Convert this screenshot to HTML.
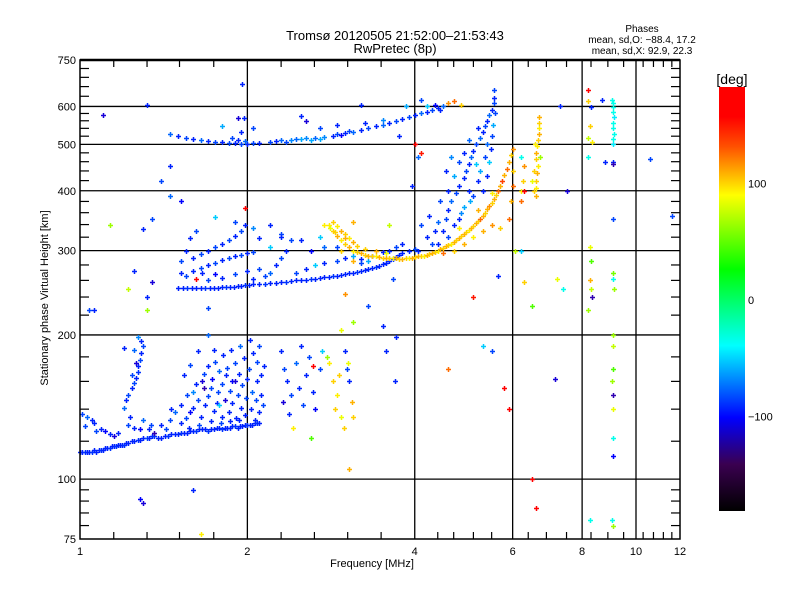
<!DOCTYPE html>
<html><head><meta charset="utf-8"><style>
body{margin:0;background:#fff;}
svg{display:block;font-family:"Liberation Sans",sans-serif;}
</style></head><body>
<svg id="chart" width="800" height="600" viewBox="0 0 800 600" xmlns="http://www.w3.org/2000/svg">
<defs>
<linearGradient id="cb" x1="0" y1="1" x2="0" y2="0">
<stop offset="0" stop-color="#000000"/>
<stop offset="0.11" stop-color="#3a0050"/>
<stop offset="0.22" stop-color="#0000ff"/>
<stop offset="0.39" stop-color="#00ffff"/>
<stop offset="0.57" stop-color="#00ff00"/>
<stop offset="0.745" stop-color="#ffff00"/>
<stop offset="0.86" stop-color="#ff5000"/>
<stop offset="0.93" stop-color="#ff0000"/>
<stop offset="1" stop-color="#ff0000"/>
</linearGradient>
</defs>
<rect width="800" height="600" fill="#fff"/>
<text x="395" y="40" font-size="13" text-anchor="middle">Tromsø 20120505 21:52:00–21:53:43</text>
<text x="395" y="53" font-size="13" text-anchor="middle">RwPretec (8p)</text>
<text x="642" y="32" font-size="10" text-anchor="middle">Phases</text>
<text x="642" y="43" font-size="10" text-anchor="middle">mean, sd,O: −88.4, 17.2</text>
<text x="642" y="54" font-size="10" text-anchor="middle">mean, sd,X:  92.9, 22.3</text>
<g id="grid"></g>
<g id="marks"></g>
<g id="axes"></g>
<text x="372" y="567" font-size="11" text-anchor="middle">Frequency [MHz]</text>
<text x="0" y="0" font-size="11" text-anchor="middle" transform="translate(48,298) rotate(-90)">Stationary phase Virtual Height [km]</text>
<rect x="719" y="87" width="26" height="424" fill="url(#cb)"/>
<text x="732" y="84" font-size="14" text-anchor="middle">[deg]</text>
<g id="cbticks"></g>
</svg>
<script>
const xTicks=[1,2,4,6,8,10,12];
const xMinor=[1.15,1.32,1.51,1.74,2.3,2.64,3.03,3.48,4.4,4.7,5.1,5.5,6.4,6.9,7.5,8.3,8.9,9.5,10.3,10.75,11.2,11.6];
const yTicks=[75,100,200,300,400,500,600,750];
const yGrid=[100,200,300,400,500,600];
const xGrid=[2,4,6,8,10];
const cbLabels=[100,0,-100];
// [freq MHz, height km, phase deg]
const eTrace=[[1,114,-110],[1.01,114,-110],[1.02,114,-105],[1.03,114,-110],[1.04,114,-110],[1.05,114,-105],[1.06,115,-110],[1.07,114,-110],[1.08,115,-110],[1.09,115,-105],[1.1,115,-110],[1.11,116,-110],[1.12,116,-110],[1.13,116,-105],[1.14,117,-110],[1.15,117,-110],[1.16,117,-105],[1.17,118,-110],[1.18,118,-110],[1.19,118,-110],[1.2,118,-105],[1.21,119,-110],[1.22,119,-110],[1.24,120,-110],[1.25,120,-110],[1.27,121,-105],[1.28,121,-110],[1.3,122,-110],[1.32,122,-100],[1.33,122,-110],[1.35,123,-110],[1.36,123,-105],[1.38,122,-110],[1.4,122,-110],[1.42,123,-110],[1.44,123,-105],[1.46,124,-110],[1.48,124,-110],[1.5,124,-110],[1.52,125,-105],[1.54,125,-110],[1.56,125,-110],[1.58,126,-110],[1.6,126,-110],[1.62,126,-105],[1.64,127,-110],[1.66,127,-110],[1.68,127,-110],[1.7,126,-105],[1.72,127,-110],[1.74,127,-110],[1.76,128,-110],[1.78,128,-110],[1.8,127,-105],[1.82,128,-110],[1.84,128,-110],[1.86,128,-110],[1.88,129,-110],[1.9,129,-105],[1.92,128,-110],[1.94,129,-110],[1.96,129,-110],[1.98,130,-110],[2,130,-105],[2.02,130,-110],[2.04,130,-110],[2.06,131,-110],[2.08,131,-105],[2.1,131,-110]];
const eSpread=[[1.01,137,-100],[1.03,135,-90],[1.05,133,-110],[1.02,129,-100],[1.06,131,-110],[1.07,126,-100],[1.09,127,-110],[1.11,126,-120],[1.13,124,-110],[1.15,123,-130],[1.17,125,-110],[1.2,141,-90],[1.21,146,-110],[1.22,150,-100],[1.24,155,-110],[1.25,159,-100],[1.26,163,-110],[1.27,167,-105],[1.27,172,-110],[1.28,177,-100],[1.29,183,-110],[1.3,190,-100],[1.29,194,-110],[1.27,198,-80],[1.25,186,-90],[1.26,175,-130],[1.24,165,-100],[1.22,130,-100],[1.25,128,-110],[1.28,127,-120],[1.23,135,-110],[1.3,133,-90],[1.34,130,-100],[1.33,127,-110],[1.36,125,-140],[1.4,130,-110],[1.43,127,-100],[1.48,138,-90],[1.46,140,-110],[1.45,133,-100],[1.52,131,-110],[1.55,134,-100],[1.52,143,-110],[1.56,150,-100],[1.58,138,-120],[1.6,141,-110],[1.6,152,-80],[1.62,158,-110],[1.63,146,-100],[1.65,135,-110],[1.66,160,-130],[1.67,166,-100],[1.68,143,-110],[1.7,149,-100],[1.7,172,-110],[1.72,155,-100],[1.73,162,-120],[1.74,139,-110],[1.75,176,-100],[1.76,144,-110],[1.77,152,-100],[1.78,168,-90],[1.8,135,-110],[1.8,158,-100],[1.81,182,-110],[1.82,146,-130],[1.83,165,-110],[1.84,171,-100],[1.85,138,-110],[1.86,153,-100],[1.87,186,-110],[1.88,160,-120],[1.88,144,-110],[1.9,175,-100],[1.91,134,-110],[1.92,150,-100],[1.93,166,-110],[1.94,190,-90],[1.95,141,-110],[1.96,157,-100],[1.97,179,-110],[1.98,136,-110],[1.99,148,-100],[2,162,-110],[2.01,170,-100],[2.02,195,-110],[2.03,140,-110],[2.04,152,-90],[2.05,183,-110],[2.06,133,-110],[2.07,146,-100],[2.08,160,-110],[2.08,176,-100],[2.1,138,-110],[2.1,190,-100],[2.12,150,-110],[2.12,165,-110],[2.13,143,-100],[2.14,172,-110],[1.72,132,-110],[1.64,130,-100],[1.57,128,-110],[1.79,131,-100],[1.86,132,-110],[1.93,133,-110],[1.74,186,-110],[1.7,200,-90],[1.63,185,-110],[1.58,173,-100],[1.54,165,-110],[1.78,143,-60],[1.67,155,-140],[1.9,160,-130]];
const midCloud=[[2.3,185,-110],[2.33,170,-100],[2.36,160,-110],[2.4,150,-100],[2.32,145,-130],[2.38,137,-110],[2.45,175,-90],[2.48,155,-110],[2.52,143,-100],[2.55,165,-110],[2.58,180,-100],[2.62,152,-110],[2.65,140,-120],[2.5,190,-110],[2.7,170,-100],[2.72,185,-60],[2.8,175,90],[2.85,160,100],[2.9,150,90],[2.88,140,100],[2.95,135,80],[2.78,180,60],[2.92,165,100],[3,185,-110],[3.02,170,-100],[3.05,160,-110],[3.08,145,110],[3.1,135,100],[2.98,128,100],[3.04,175,80],[2.42,128,90],[2.6,122,40],[3.05,105,110]];
const fLow=[[1.5,251,-110],[1.53,251,-110],[1.56,251,-105],[1.59,251,-110],[1.62,251,-110],[1.65,251,-110],[1.68,251,-105],[1.71,251,-110],[1.74,251,-110],[1.77,251,-110],[1.8,252,-110],[1.83,252,-105],[1.86,252,-110],[1.89,252,-110],[1.92,253,-110],[1.95,253,-110],[1.98,254,-105],[2.01,254,-110],[2.05,255,-110],[2.1,256,-110],[2.15,256,-105],[2.2,257,-110],[2.25,257,-110],[2.3,258,-110],[2.35,258,-105],[2.4,259,-110],[2.45,260,-110],[2.5,260,-110],[2.55,261,-110],[2.6,262,-105],[2.65,262,-110],[2.7,263,-110],[2.75,264,-110],[2.8,264,-110],[2.85,265,-105],[2.9,266,-110],[2.95,267,-110],[3,268,-110],[3.05,269,-110],[3.1,270,-110],[3.15,271,-105],[3.2,272,-110],[3.25,273,-110],[3.3,275,-110],[3.35,276,-110],[3.4,277,-105],[3.45,279,-110],[3.5,281,-110],[3.55,283,-110],[3.6,285,-110],[3.65,288,-105],[3.7,291,-110],[3.75,294,-110],[3.8,297,-110],
[1.55,265,-100],[1.6,272,-110],[1.65,276,-100],[1.7,280,-110],[1.75,283,-100],[1.8,287,-110],[1.85,290,-100],[1.9,292,-110],[1.95,294,-100],[2,296,-110],[2.05,298,-100],[1.6,290,-110],[1.65,295,-100],[1.7,300,-110],[1.75,305,-100],[1.8,310,-110],[1.85,315,-100],[1.9,322,-110],[1.95,330,-100],[1.55,300,-110],[1.52,285,-100],[1.58,318,-110],[1.62,330,-100],[1.52,270,-110],[1.7,260,-100],[1.8,263,-110],[1.9,268,-100],[2,272,-110],[2.1,275,-100],[1.75,268,-120],[2.05,262,-110],[2.15,265,-100],[2.2,270,-90],[2.25,280,-110],[2.3,290,-100],[2.35,300,-110],[2.4,315,-100],[2.1,318,-110],[2.05,335,-80],[1.98,340,-110],[1.9,345,-100],[2.2,305,-60],[2.45,270,-100],[2.55,275,-110],[2.65,280,-60],[2.75,283,-110],[2.9,285,-100],[3,290,-110],[3.1,293,-70],[3.2,288,-110],[3.35,292,-100],[3.5,298,-110],[2.6,300,-120],[2.75,305,-90],[2.5,315,-110],[2.9,305,-100],[2.3,325,-100],[2.2,340,-110],[2.7,320,-60],[3.6,300,-110],[3.7,305,-100],[3.8,310,-110],[3.9,300,-110],[4,303,-100],[4.05,300,-110],[3.2,283,-100],[3.3,285,-70]];
const fX=[[2.8,340,90],[2.85,330,100],[2.9,322,110],[2.95,315,90],[3,310,100],[3.05,305,110],[3.1,300,90],[3.15,298,100],[3.2,296,110],[2.85,345,100],[2.9,338,90],[2.95,330,110],[3,325,100],[3.05,318,90],[3.1,312,110],[3.15,306,100],[2.82,335,80],[2.88,328,100],[3,318,110],[3.25,294,100],[3.3,293,110],[3.35,292,100],[3.4,292,90],[3.45,291,110],[3.5,290,100],[3.55,290,110],[3.6,290,100],[3.65,289,90],[3.7,289,110],[3.75,288,100],[3.8,288,110],[3.85,289,100],[3.9,290,90],[3.95,290,110],[4,291,100],[4.05,292,110],[4.1,292,100],[4.15,293,90],[4.2,294,110],[4.25,295,100],[4.3,297,110],[4.35,298,100],[4.4,300,90],[4.45,302,110],[4.5,304,100],[4.55,306,110],[4.6,308,100],[4.65,310,90],[4.7,313,110],[4.75,316,100],[4.8,319,110],[4.85,322,100],[4.9,325,110],[4.95,328,100],[5,331,90],[5.05,335,110],[5.1,338,100],[5.15,342,110],[5.2,346,100],[5.25,350,130],[5.3,355,110],[5.35,360,100],[5.4,366,110],[5.45,372,120],[5.5,378,100],[5.55,385,110],[5.6,392,100],[5.65,400,130],[5.7,410,110],[5.75,420,140],[5.8,432,110],[5.85,445,130],[5.9,460,110],[5.95,475,100],[6,490,120],[5.9,350,130],[5.95,380,110],[6,410,130],[6.02,440,100],[5.7,335,100],[5.5,340,120],[5.3,330,110],[5.1,320,90],[4.9,310,110],[4.7,300,100],[4.5,296,130],[4.8,335,90],[5.2,365,110],[5.5,395,90],[3.1,285,110],[3.25,303,100],[3.4,300,110],[3.55,297,80],[2.95,300,100],[3.6,340,70],[3.1,345,110],[2.75,340,90],[6.6,390,110],[6.6,405,90],[6.62,420,100],[6.64,435,110],[6.66,450,90],[6.6,465,100],[6.62,480,110],[6.64,495,90],[6.66,510,100],[6.68,525,110],[6.7,540,90],[6.68,555,100],[6.7,570,110],[6.55,400,100],[6.5,420,80],[6.55,440,100],[6.72,470,60],[6.58,500,90],[6.2,380,130],[6.25,420,100],[6.3,450,120],[6.22,400,90]];
const fO=[[4.2,320,-110],[4.3,310,-100],[4.35,330,-110],[4.4,345,-90],[4.5,330,-110],[4.55,350,-100],[4.6,365,-110],[4.65,380,-90],[4.7,340,-110],[4.75,395,-100],[4.8,410,-110],[4.85,360,-80],[4.9,425,-110],[4.95,440,-100],[5,455,-110],[5.02,380,-70],[5.05,470,-90],[5.1,485,-110],[5.15,500,-100],[5.2,420,-110],[5.25,515,-90],[5.3,530,-110],[5.35,545,-100],[5.4,560,-110],[5.45,575,-90],[5.5,590,-110],[5.55,610,-100],[5.55,625,-110],[5.52,550,-70],[5.5,520,-100],[5.48,490,-110],[5.45,460,-60],[5.4,430,-110],[5.35,470,-100],[5.3,400,-110],[5.25,440,-70],[5.1,390,-100],[5,400,-110],[4.9,370,-70],[4.8,350,-110],[4.6,320,-100],[4.4,310,-110],[4.45,380,-100],[4.6,400,-110],[4.7,430,-70],[4.8,460,-100],[4.9,480,-110],[5,510,-90],[5.2,540,-110],[5.55,650,-100],[4.65,470,-80],[4.55,440,-110],[5.4,500,-90],[5.58,580,-100],[5.15,455,-60],[4.25,355,-110],[4.1,340,-100]];
const f2=[[1.45,525,-90],[1.5,520,-110],[1.55,515,-100],[1.6,512,-110],[1.65,510,-90],[1.7,508,-110],[1.75,506,-100],[1.8,505,-110],[1.85,504,-100],[1.9,503,-110],[1.95,502,-100],[2,502,-110],[2.05,503,-100],[2.1,504,-110],[1.92,510,-110],[1.88,515,-100],[1.98,508,-90],[2.2,505,-100],[2.25,508,-110],[2.3,510,-90],[2.35,506,-100],[2.4,510,-80],[2.45,514,-90],[2.5,512,-70],[2.55,516,-80],[2.6,510,-70],[2.65,515,-90],[2.7,512,-70],[2.75,518,-80],[2.85,520,-110],[2.9,525,-100],[2.95,522,-120],[3,528,-110],[3.05,532,-100],[3.1,530,-90],[3.2,535,-110],[3.3,540,-100],[3.4,545,-110],[3.5,548,-90],[3.6,555,-110],[3.7,560,-100],[3.8,565,-110],[3.9,570,-100],[4,575,-110],[4.1,580,-90],[4.2,585,-110],[4.3,590,-100],[4.4,596,-110],[4.5,600,-90],[4.6,610,120],[4.7,615,130],[4.85,605,100],[2.7,540,-100],[2.55,560,-130],[3.25,555,-110],[3.5,562,-80],[3.85,600,-70],[3.2,605,-110],[4.2,600,-60],[4.35,603,-120],[1.95,530,-110],[1.8,545,-70],[2.9,550,-110]];
const stray=[[1.32,605,-110],[1.1,575,-130],[1.96,668,-110],[1.92,567,-130],[1.97,567,-110],[2.05,540,-100],[2.5,572,-110],[1.45,450,-110],[1.4,420,-100],[1.52,380,-120],[1.32,240,-110],[1.22,250,70],[1.35,258,-130],[1.25,272,-110],[1.32,225,60],[1.7,228,-100],[2.3,320,-110],[1.13,340,60],[1.3,333,-110],[1.04,225,-100],[1.06,226,-110],[1.2,188,-110],[1.35,350,-100],[1.45,390,-90],[1.75,353,-60],[1.66,270,-110],[1.62,262,170],[1.98,368,170],[3,243,120],[3.1,213,60],[3.3,230,-100],[3.5,209,-110],[2.95,205,80],[1.6,95,-110],[1.28,91,-120],[1.3,89,-130],[1.65,77,90],[2.62,172,170],[3.65,262,-100],[3.7,198,-110],[3.55,185,-110],[3.68,160,-110],[3.96,410,-110],[4.1,480,150],[4,500,170],[4.05,470,-90],[4.45,590,-110],[4.1,620,-100],[3.75,520,-110],[4.6,170,130],[5.1,240,150],[5.5,185,-100],[5.3,190,-60],[5.65,265,-110],[5.8,155,170],[5.9,140,160],[6.5,100,170],[6.6,87,160],[6.05,300,70],[6.2,300,-60],[6.3,258,100],[7.3,600,-110],[7.5,400,-130],[8.2,650,160],[8.2,615,100],[8.3,598,-110],[8.25,545,100],[8.2,515,70],[8.35,505,90],[8.2,470,-40],[8.25,305,80],[8.3,285,40],[8.25,260,110],[8.32,240,-140],[8.2,225,60],[8.25,82,-40],[8.7,620,-110],[8.8,460,-110],[9.05,620,-40],[9.1,610,-40],[9.1,598,-40],[9.1,585,-40],[9.12,570,-50],[9.1,555,-40],[9.1,540,-40],[9.12,525,-40],[9.1,512,-40],[9.1,500,-50],[9.1,460,-110],[9.1,455,-140],[9.1,350,-100],[9.1,270,50],[9.08,262,-40],[9.12,250,60],[9.1,200,60],[9.08,190,70],[9.1,170,40],[9.05,160,60],[9.1,150,-140],[9.1,140,80],[9.1,122,-40],[9.1,112,-120],[9.1,80,60],[9.05,82,-40],[7.2,262,80],[7.4,250,-40],[10.6,465,-100],[11.6,355,-100],[8.3,250,70],[7.15,162,-130],[6.5,230,40],[6.3,400,160],[6.2,470,-40]];
const traces=[eTrace,eSpread,midCloud,fLow,f2,fO,fX,stray];

const L=80,R=680,T=60,B=539;
const X=f=>L+556*Math.log10(f);
const Y=h=>B-479*Math.log10(h/75);
const NS="http://www.w3.org/2000/svg";
function mk(tag,attrs,parent){const e=document.createElementNS(NS,tag);for(const k in attrs)e.setAttribute(k,attrs[k]);parent.appendChild(e);return e;}
function col(p){
  const st=[[-182,[0,0,0]],[-150,[70,0,140]],[-120,[0,0,255]],[-45,[0,255,255]],[20,[0,255,0]],[85,[255,255,0]],[125,[255,130,0]],[155,[255,0,0]],[185,[255,0,0]]];
  for(let i=0;i<st.length-1;i++){const a=st[i],b=st[i+1];if(p<=b[0]){const t=Math.max(0,(p-a[0])/(b[0]-a[0]));return 'rgb('+a[1].map((v,j)=>Math.round(v+(b[1][j]-v)*t)).join(',')+')';}}
  return 'rgb(255,0,0)';
}
const grid=document.getElementById('grid'),axes=document.getElementById('axes'),marks=document.getElementById('marks');
yGrid.forEach(h=>{const ln=mk('line',{x1:L,x2:R,y1:Y(h),y2:Y(h),stroke:'#000','stroke-width':1.3},grid);

});
xGrid.forEach(f=>{const ln=mk('line',{x1:X(f),x2:X(f),y1:T,y2:B,stroke:'#000','stroke-width':1.3},grid);

});
traces.forEach(tr=>tr.forEach(d=>{
  const x=Math.round(X(d[0]))+0.5,y=Math.round(Y(d[1]))+0.5,c=col(d[2]);
  const p=mk('path',{d:'M'+(x-2.5)+' '+y+'h5M'+x+' '+(y-2.5)+'v5',stroke:c,'stroke-width':1.5,fill:'none'},marks);
  
  
}));
mk('rect',{x:L,y:T,width:R-L,height:B-T,fill:'none',stroke:'#000','stroke-width':1.5},axes);
mk('line',{x1:L,x2:R,y1:T,y2:T,stroke:'#000','stroke-width':2.5},axes);
xMinor.forEach(f=>{const x=X(f);mk('line',{x1:x,x2:x,y1:B,y2:B-7,stroke:'#000','stroke-width':1.2},axes);mk('line',{x1:x,x2:x,y1:T,y2:T+7,stroke:'#000','stroke-width':1.2},axes);});
const yIntervals=[[75,100],[100,200],[200,300],[300,400],[400,500],[500,600],[600,750]];
yIntervals.forEach(iv=>{for(let k=1;k<5;k++){const y=Y(iv[0]+(iv[1]-iv[0])*k/5);mk('line',{x1:L,x2:L+9,y1:y,y2:y,stroke:'#000','stroke-width':1.2},axes);mk('line',{x1:R,x2:R-9,y1:y,y2:y,stroke:'#000','stroke-width':1.2},axes);}});
xTicks.forEach(f=>{const t=mk('text',{x:X(f),y:555,'font-size':11,'text-anchor':'middle'},axes);t.textContent=f;

});
yTicks.forEach(h=>{const t=mk('text',{x:L-4,y:Y(h)+4,'font-size':11,'text-anchor':'end'},axes);t.textContent=h;

});
const cbt=document.getElementById('cbticks');
cbLabels.forEach(v=>{const y=300-v*1.165;const t=mk('text',{x:748,y:y+4,'font-size':11},cbt);t.textContent=v<0?'−'+Math.abs(v):v;

});
</script>
</body></html>
